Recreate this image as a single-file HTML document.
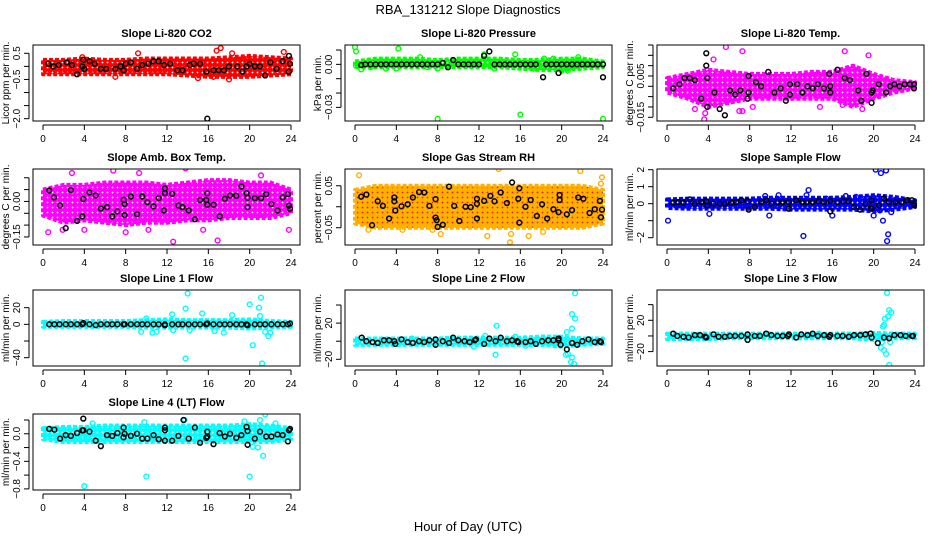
<!DOCTYPE html>
<html><head><meta charset="utf-8"><style>
html,body{margin:0;padding:0;background:#fff}
svg{display:block;font-family:"Liberation Sans",sans-serif}
</style></head><body>
<svg id="chart" width="936" height="540" viewBox="0 0 936 540" xmlns="http://www.w3.org/2000/svg">
<rect x="0" y="0" width="936" height="540" fill="#fff"/>
<text x="468" y="14" text-anchor="middle" font-size="13">RBA_131212  Slope Diagnostics</text>
<text x="468" y="531" text-anchor="middle" font-size="13">Hour of Day (UTC)</text>
</svg>
<script>
const xTicks = [0,4,8,12,16,20,24];
const bandHours = [0,2,4,6,8,10,12,14,16,18,20,22,24];

const co2BandLo = [-0.3,-0.3,-0.3,-0.3,-0.3,-0.3,-0.3,-0.35,-0.4,-0.4,-0.4,-0.35,-0.3];
const co2BandHi = [0.25,0.25,0.3,0.25,0.25,0.3,0.3,0.3,0.3,0.35,0.4,0.35,0.3];
const co2Out = [[9.2,0.5],[16.8,0.6],[17.2,0.7],[18.3,0.5],[18,-0.5],[16.5,-0.4],[23.3,0.55],[3.8,0.35],[15,-0.45],[7,-0.4]];
const co2Blk = [[0.5,0.1],[1,0],[1.5,0.05],[2.3,0.15],[2.8,0.05],[3.3,-0.3],[3.8,0],[3.9,0.25],[4,-0.1],[4.5,0.2],[5,0.1],[5.6,-0.1],[6.1,-0.1],[7,-0.1],[7.5,0],[7.8,-0.15],[8,0.1],[8.5,0.15],[9.1,-0.1],[9.6,0.05],[10.2,0.1],[10.7,0.2],[11.2,0.2],[11.7,0.05],[12.3,0.1],[13,-0.15],[13.5,-0.15],[14.2,0.05],[14.6,0.1],[15.2,0.1],[15.8,-0.2],[15.9,-2.0],[16.5,-0.15],[17,-0.15],[17.5,-0.15],[18,0],[18.8,0],[19.3,-0.2],[19.7,0],[20,0.1],[20.5,0],[21,0],[21.5,-0.35],[22,0.15],[22.6,-0.1],[23.2,0.2],[23.8,0.4],[23.9,0.1],[23.8,-0.2]];

const presBandLo = [-0.002,-0.002,-0.002,-0.002,-0.002,-0.002,-0.002,-0.002,-0.003,-0.004,-0.004,-0.003,-0.002];
const presBandHi = [0.002,0.004,0.004,0.004,0.003,0.004,0.004,0.004,0.003,0.003,0.004,0.004,0.002];
const presOut = [[0,0.012],[0.1,0.009],[0.1,-0.001],[0.6,-0.0035],[1.5,-0.002],[3,-0.003],[4,-0.003],[4.2,0.011],[6.3,0.005],[7,-0.002],[8,-0.038],[8,-0.003],[12.5,0.007],[13.5,-0.003],[15.5,0.007],[16,-0.035],[17.3,-0.003],[18.3,0.004],[19.2,0.004],[20,-0.0045],[20.6,-0.0045],[21.6,0.005],[24,-0.038]];
const presBlk = [[0.6,-0.0005],[1,0],[1.5,0],[2,0],[2.5,0],[3,0],[3.5,0],[4,0],[4.5,0],[5,0],[5.5,0],[6,0],[6.5,0],[7,0],[7.5,0],[8,0],[8.5,0.001],[9,-0.002],[9.5,0.003],[10,0],[10.5,0],[11,0],[11.5,0],[12,0],[12.5,0.006],[13,0.009],[13.5,0],[14,0],[14.5,0],[15,0],[15.5,0],[16,0],[16.5,0],[17,0],[17.5,0],[18.2,-0.009],[18.5,0],[19,0],[19.5,0],[19.7,-0.006],[20,0],[20.5,0],[21,0],[21.5,0],[22,0],[22.5,0],[23,0],[23.5,0],[24,0],[24,-0.009]];

const tempBandLo = [-0.003,-0.006,-0.01,-0.008,-0.006,-0.006,-0.006,-0.006,-0.006,-0.01,-0.006,-0.003,-0.001];
const tempBandHi = [0.004,0.006,0.008,0.007,0.006,0.006,0.006,0.007,0.007,0.01,0.006,0.003,0.002];
const tempOut = [[5.7,0.019],[7.3,0.017],[17.2,0.017],[19.5,0.015],[3.6,-0.016],[3.7,-0.013],[2.7,-0.011],[7,-0.012],[7.3,-0.012],[8.3,-0.01],[14.8,-0.01],[17,-0.009],[18.9,-0.011],[4.5,0.013]];
const tempBlk = [[0.6,-0.001],[1.2,0.001],[1.7,0.004],[2.2,0.004],[2.7,0.003],[3.3,-0.006],[3.8,0.016],[3.8,0.010],[3.9,0.004],[3.9,-0.010],[4.6,-0.003],[5.1,-0.011],[5.6,-0.014],[6.1,-0.002],[6.6,-0.004],[7.1,-0.002],[7.8,-0.006],[7.9,-0.003],[7.9,0.005],[8.6,0.002],[9.1,0],[9.8,0.007],[10.4,-0.003],[11,-0.001],[11.5,-0.007],[11.9,-0.004],[11.9,0.001],[12.6,0.001],[13.1,-0.003],[13.6,0],[14.1,-0.001],[14.6,0.001],[15.2,-0.001],[15.8,-0.003],[15.8,0],[15.7,0.006],[16.5,0.008],[17.2,0.004],[17.7,0.003],[18.5,-0.002],[18.8,-0.007],[19.3,0.006],[19.8,-0.008],[19.8,-0.003],[19.9,-0.002],[20.5,0.001],[21.2,-0.003],[21.6,0],[22,0.001],[22.5,0],[23,0.001],[23.5,0.001],[23.9,0.001],[23.9,-0.001]];

const ambBandLo = [-0.06,-0.09,-0.08,-0.09,-0.1,-0.09,-0.09,-0.08,-0.08,-0.07,-0.07,-0.07,-0.05];
const ambBandHi = [0.05,0.07,0.07,0.08,0.08,0.08,0.07,0.08,0.09,0.09,0.08,0.08,0.05];
const ambOut = [[2.8,0.12],[6.8,0.13],[13.8,0.14],[9.3,0.12],[21.1,0.11],[4,-0.12],[0.5,-0.13],[10.2,-0.12],[12.6,-0.17],[16.9,-0.165],[8,-0.13],[1.9,-0.12],[23.8,-0.12],[15.5,-0.12]];
const ambBlk = [[0.6,0.046],[1.07,0.017],[1.65,-0.017],[2.2,-0.113],[2.7,0.048],[3.3,-0.082],[3.8,-0.063],[3.9,0.01],[4.5,0.038],[5.1,0.025],[5.6,-0.03],[6.2,-0.024],[6.7,-0.063],[7.2,-0.042],[7.8,0.007],[7.9,-0.058],[7.9,-0.011],[8.5,0.021],[9.1,-0.054],[9.6,0.021],[10.1,-0.003],[10.7,-0.021],[11.2,0.014],[11.7,-0.038],[11.8,0.055],[11.8,0.035],[12.5,0.032],[13.1,-0.017],[13.5,-0.024],[14.1,-0.038],[14.7,-0.075],[15.2,0.006],[15.8,0.006],[15.9,0.034],[15.9,-0.014],[16.5,-0.014],[17.1,-0.063],[17.6,0.011],[18.1,0.025],[18.7,0.024],[19.2,0.063],[19.7,0.035],[19.8,-0.024],[19.8,0.015],[20.5,0.014],[21.1,0.014],[21.6,0.031],[22.1,-0.011],[22.7,-0.038],[23.2,0.017],[23.7,0.031],[23.8,-0.018],[23.9,-0.031]];

const rhBandLo = [-0.04,-0.05,-0.05,-0.05,-0.05,-0.05,-0.05,-0.05,-0.05,-0.05,-0.05,-0.05,-0.04];
const rhBandHi = [0.04,0.05,0.05,0.05,0.05,0.05,0.05,0.05,0.05,0.05,0.05,0.05,0.04];
const rhOut = [[0.4,0.075],[13.9,0.09],[21.8,0.085],[23.9,0.07],[23.8,0.055],[8.3,-0.065],[12.8,-0.07],[15,-0.085],[15.1,-0.065],[16.8,-0.07],[18.2,-0.06],[1.3,-0.055],[4.6,-0.055],[7.5,-0.055]];
const rhBlk = [[0.6,0.024],[1.1,0.029],[1.65,-0.044],[2.2,0.013],[2.7,0.002],[3.3,-0.028],[3.8,0.022],[3.8,0.013],[3.9,-0.009],[4.5,0.001],[5.1,0.006],[5.6,0.022],[6.2,0.035],[6.7,0.034],[7.2,0.002],[7.8,0.018],[7.8,-0.026],[7.9,-0.032],[8,-0.048],[8.5,-0.043],[9.1,0.048],[9.6,0.002],[10.1,-0.034],[10.7,0],[11.2,-0.001],[11.8,0.019],[11.8,-0.028],[11.8,0.007],[12.5,0.014],[13.1,0.026],[13.5,0.013],[14.1,0.034],[14.7,0.009],[15.2,0.058],[15.9,-0.038],[15.9,0.044],[15.8,0.019],[16.5,0],[17,0.016],[17.6,-0.022],[18.1,0.006],[18.6,-0.028],[19.2,-0.006],[19.7,-0.013],[19.8,0.028],[19.8,0.016],[20.5,-0.018],[21,-0.008],[21.6,0.022],[22.1,0.019],[22.7,-0.015],[23.2,-0.006],[23.7,0.014],[23.8,-0.025],[23.9,-0.007]];

const flowBandLo = [-0.25,-0.3,-0.3,-0.3,-0.3,-0.3,-0.35,-0.35,-0.35,-0.35,-0.45,-0.35,-0.2];
const flowBandHi = [0.25,0.3,0.3,0.3,0.3,0.35,0.35,0.35,0.35,0.4,0.5,0.4,0.2];
const flowOut = [[0.1,-1],[10.8,0.5],[13.7,0.8],[13.5,0.5],[9.9,-0.7],[13.2,-1.9],[16,-0.7],[15.4,0.3],[20,-0.7],[20.2,2.0],[20.7,1.8],[21.2,1.95],[21.4,-1.8],[21.3,-2.2],[20.9,-1],[21.7,-0.5],[4.1,-0.6],[20.6,-0.4],[18.3,0.4],[9.5,0.45],[17.3,0.45]];
const flowBlk = [[0.6,0.05],[1.1,0.1],[1.6,0.05],[2.2,0.25],[2.7,0],[3.3,0.1],[3.8,0.15],[3.9,-0.1],[4.5,0],[5.1,0],[5.6,0],[6.2,0.05],[6.7,0.1],[7.2,0.2],[7.8,0.15],[7.9,-0.35],[8.5,-0.2],[9.1,0.1],[9.6,0.2],[10.1,0],[10.7,0.1],[11.2,0.1],[11.8,-0.3],[11.8,0.1],[12.5,0.2],[13.1,0.1],[13.5,0.1],[14.1,0.1],[14.7,0.15],[15.2,0.1],[15.8,-0.45],[15.8,0.15],[16.5,0.1],[17.1,0.15],[17.6,0.15],[18.1,-0.2],[18.7,-0.35],[19.2,0],[19.7,-0.25],[19.8,0.2],[19.8,-0.3],[20.5,-0.1],[21,0.3],[21.5,0.1],[22.1,0.1],[22.7,0.1],[23.2,0.2],[23.7,0.2],[23.9,-0.1],[23.9,0]];

const l1BandLo = [-3,-3,-3,-3,-3,-4,-4,-4,-4,-4,-5,-4,-3];
const l1BandHi = [3,4,4,4,4,5,6,5,5,5,6,4,3];
const l1Out = [[13.8,-41],[14,37],[13.8,19],[15.4,13],[12.5,12],[9.5,-9],[10.6,-10],[11,-9],[18.3,11],[17.5,-10],[20,24],[20.3,-25],[21.1,32],[20.9,20],[21,10],[21.5,-9],[21.8,-14],[22,-10],[21.2,-47],[16.6,-8],[12.6,-7],[10,7],[14.2,-7]];
const l1Blk = [[0.6,0],[1.1,0],[1.6,0],[2.2,0],[2.7,0],[3.3,0],[3.8,0],[3.9,1.5],[4.5,0],[5.1,-1],[5.6,0],[6.2,0],[6.7,0],[7.2,0],[7.8,0],[7.9,0],[8.5,0],[9.1,0],[9.6,0],[10.1,0],[10.7,0],[11.2,0],[11.8,-1],[11.8,0],[12.5,0],[13.1,0],[13.5,0],[14.1,0],[14.7,0],[15.2,0],[15.8,0],[15.9,1],[16.5,0],[17.1,0],[17.6,0],[18.1,0],[18.7,0],[19.2,0],[19.7,0],[19.8,-1],[20.5,0],[21,0],[21.5,0],[22.1,0],[22.7,0],[23.2,0],[23.7,0],[23.9,1]];

const l4BandLo = [-0.08,-0.12,-0.12,-0.12,-0.12,-0.12,-0.12,-0.12,-0.12,-0.12,-0.12,-0.12,-0.08];
const l4BandHi = [0.08,0.1,0.1,0.12,0.12,0.12,0.12,0.12,0.12,0.12,0.14,0.12,0.08];
const l4Out = [[4,-0.76],[10,-0.62],[20,-0.62],[21.3,-0.32],[20.3,-0.19],[20.8,-0.2],[21.5,0.28],[21,0.2],[13.7,0.2],[4.8,0.15],[19.5,0.18],[22.5,0.15],[9.8,0.17]];
const l4Blk = [[0.6,0.07],[1.1,0.06],[1.65,-0.07],[2.2,-0.02],[2.7,-0.03],[3.3,0.01],[3.9,0.22],[3.8,0.05],[3.9,0.05],[4.5,0.03],[5.1,-0.1],[5.6,-0.18],[6.2,-0.02],[6.7,-0.03],[7.2,0.01],[7.8,0.09],[7.8,-0.05],[7.9,0],[8.5,-0.03],[9.1,0],[9.6,-0.07],[10.1,-0.07],[10.7,-0.02],[11.2,-0.08],[11.8,0.09],[11.8,0.05],[11.8,-0.1],[12.5,-0.1],[13.1,-0.03],[13.6,0.2],[14.1,-0.07],[14.7,0.09],[15.2,-0.13],[15.8,-0.06],[15.9,-0.04],[15.9,0.03],[16.5,-0.15],[17.1,0.01],[17.6,-0.04],[18.1,0],[18.7,-0.06],[19.2,-0.02],[19.7,0.1],[19.8,0.04],[19.8,-0.16],[20.5,-0.07],[21,0.03],[21.6,-0.04],[22.1,-0.04],[22.7,-0.01],[23.2,-0.02],[23.7,-0.11],[23.8,0.05],[23.9,0.07]];

const l2BandLo = [-4,-4,-4,-4,-4,-4,-4,-4,-4,-4,-6,-4,-3];
const l2BandHi = [3,3,3,3,3,4,4,4,4,5,5,3,3];
const l2Out = [[21.3,53],[21,30],[21.3,25],[20.5,10],[21,14],[13.7,17],[13.6,-15],[20.4,-15],[20.6,-14],[21,-18],[20.9,-23],[21.2,-25],[12.6,6],[15.5,5],[5.5,3],[11.5,-6],[16.5,-5]];
const l2Blk = [[0.65,4],[1.1,0],[1.7,-1],[2.2,-2],[2.8,1],[3.3,1],[3.8,0],[3.9,-3],[4.5,2],[5.1,-1],[5.6,-2],[6.2,0],[6.7,-1],[7.2,1],[7.8,2],[7.8,-4],[8.5,0],[9.1,-2],[9.5,4],[10,1],[10.6,0],[11.1,-1],[11.6,1],[11.7,2],[12.5,-3],[13,3],[13.6,0],[14.1,4],[14.7,0],[15.2,1],[15.7,0],[15.8,-1],[16.5,-1],[17,0],[17.5,-3],[18.1,0],[18.7,1],[19.2,1],[19.7,3],[19.7,1],[19.9,-4],[20.5,-9],[21,-2],[21.5,-4],[22,0],[22.6,2],[23.2,-1],[23.7,0],[23.8,-1]];

const l3BandLo = [-4,-4,-4,-3,-3,-3,-3,-3,-3,-3,-5,-3,-3];
const l3BandHi = [3,3,3,3,3,3,3,3,3,3,4,3,3];
const l3Out = [[21.3,55],[21.5,33],[21.7,30],[21.4,25],[21.1,22],[21,14],[20.9,12],[20.8,-8],[21,-18],[21.2,-23],[21.5,-37],[20.7,-15],[21.6,-8],[9.8,2],[14.7,3]];
const l3Blk = [[0.6,3],[1,0],[1.6,-1],[2.1,-2],[2.7,1],[3.2,1],[3.7,-1],[3.8,-2],[4.5,2],[5,-1],[5.6,-1],[6.1,0],[6.6,0],[7.2,0],[7.8,2],[7.8,-5],[8.5,0],[9,0],[9.6,3],[10.1,1],[10.7,0],[11.2,0],[11.7,0],[11.8,2],[12.5,-2],[13,2],[13.6,1],[14.1,3],[14.6,0],[15.2,1],[15.7,-1],[15.8,1],[16.5,0],[17,0],[17.6,-1],[18.1,1],[18.7,1],[19.2,2],[19.7,3],[19.8,-2],[20.4,-9],[21,-2],[21.5,-3],[22,1],[22.6,1],[23.1,0],[23.7,0],[23.8,0]];

const panels = [
 {id:'co2',title:'Slope Li-820 CO2',yl:'Licor ppm per min.',col:0,row:0,ymin:-2.088,ymax:0.817,ticks:[0.5,0,-0.5,-1,-1.5,-2],labels:['0.5','','-0.5','','','-2.0'],color:'#ff0000',dot:'#ff0000',lo:co2BandLo,hi:co2BandHi,out:co2Out,blk:co2Blk},
 {id:'pressure',title:'Slope Li-820 Pressure',yl:'kPa per min.',col:1,row:0,ymin:-0.0395,ymax:0.0135,ticks:[0.01,0,-0.01,-0.02,-0.03],labels:['','0.00','','','-0.03'],color:'#00ff00',dot:'#00cc00',lo:presBandLo,hi:presBandHi,out:presOut,blk:presBlk},
 {id:'temp',title:'Slope Li-820 Temp.',yl:'degrees C per min.',col:2,row:0,ymin:-0.0168,ymax:0.02,ticks:[0.02,0.015,0.01,0.005,0,-0.005,-0.01,-0.015],labels:['','','','0.005','','','','-0.015'],color:'#ff00ff',dot:'#ff00ff',lo:tempBandLo,hi:tempBandHi,out:tempOut,blk:tempBlk},
 {id:'amb-box',title:'Slope Amb. Box Temp.',yl:'degrees C per min.',col:0,row:1,ymin:-0.184,ymax:0.137,ticks:[0.1,0.05,0,-0.05,-0.1,-0.15],labels:['','','0.00','','','-0.15'],color:'#ff00ff',dot:'#ff00ff',lo:ambBandLo,hi:ambBandHi,out:ambOut,blk:ambBlk},
 {id:'rh',title:'Slope Gas Stream RH',yl:'percent per min.',col:1,row:1,ymin:-0.0912,ymax:0.09,ticks:[0.05,0,-0.05],labels:['0.05','','-0.05'],color:'#ffb000',dot:'#ee2200',lo:rhBandLo,hi:rhBandHi,out:rhOut,blk:rhBlk},
 {id:'sample-flow',title:'Slope Sample Flow',yl:'ml/min per min.',col:2,row:1,ymin:-2.43,ymax:2.04,ticks:[2,1,0,-1,-2],labels:['2','1','0','','-2'],color:'#0000ff',dot:'#0000ff',lo:flowBandLo,hi:flowBandHi,out:flowOut,blk:flowBlk},
 {id:'line1',title:'Slope Line 1 Flow',yl:'ml/min per min.',col:0,row:2,ymin:-50,ymax:41.2,ticks:[20,0,-20,-40],labels:['20','0','','-40'],color:'#00ffff',dot:'#00ffff',lo:l1BandLo,hi:l1BandHi,out:l1Out,blk:l1Blk},
 {id:'line2',title:'Slope Line 2 Flow',yl:'ml/min per min.',col:1,row:2,ymin:-27.4,ymax:56.6,ticks:[40,20,0,-20],labels:['','20','','-20'],color:'#00ffff',dot:'#00ffff',lo:l2BandLo,hi:l2BandHi,out:l2Out,blk:l2Blk},
 {id:'line3',title:'Slope Line 3 Flow',yl:'ml/min per min.',col:2,row:2,ymin:-38.4,ymax:58.7,ticks:[40,20,0,-20],labels:['','20','','-20'],color:'#00ffff',dot:'#00ffff',lo:l3BandLo,hi:l3BandHi,out:l3Out,blk:l3Blk},
 {id:'line4',title:'Slope Line 4 (LT) Flow',yl:'ml/min per min.',col:0,row:3,ymin:-0.816,ymax:0.287,ticks:[0.2,0,-0.2,-0.4,-0.6,-0.8],labels:['','0.0','','-0.4','','-0.8'],color:'#00ffff',dot:'#00ffff',lo:l4BandLo,hi:l4BandHi,out:l4Out,blk:l4Blk}
];

const NS='http://www.w3.org/2000/svg';
const svg=document.getElementById('chart');
const colLeft=[33,345,657], rowTop=[45,169,290,414], W=267, H=76;
function mk(tag,attrs,parent){const e=document.createElementNS(NS,tag);for(const k in attrs)e.setAttribute(k,attrs[k]);parent.appendChild(e);return e;}
const defs=mk('defs',{},svg);

panels.forEach(p=>{
  const L=colLeft[p.col], T=rowTop[p.row];
  const g=mk('g',{},svg);
  
  
  const xs=h=>L+10+h*(W-19)/24;
  const ys=v=>T+(p.ymax-v)/(p.ymax-p.ymin)*H;
  // texture pattern mimicking overlapping open circles
  const pat=mk('pattern',{id:'pat-'+p.id,width:5,height:5,patternUnits:'userSpaceOnUse'},defs);
  mk('rect',{x:0,y:0,width:5,height:5,fill:p.color},pat);
  mk('circle',{cx:2.5,cy:2.5,r:0.9,fill:p.id==='rh'?p.dot:'#fff'},pat);
  const clip=mk('clipPath',{id:'clip-'+p.id},g);
  mk('rect',{x:L,y:T,width:W,height:H},clip);
  const plot=mk('g',{'clip-path':'url(#clip-'+p.id+')'},g);
  let pts=[];
  bandHours.forEach((h,i)=>pts.push(xs(h)+','+ys(p.hi[i])));
  for(let i=bandHours.length-1;i>=0;i--)pts.push(xs(bandHours[i])+','+ys(p.lo[i]));
  const band=mk('polygon',{points:pts.join(' '),fill:'url(#pat-'+p.id+')',stroke:p.color,'stroke-width':4,'stroke-linejoin':'round','stroke-dasharray':'4 2'},plot);
  
  
  p.out.forEach(d=>{
    const c=mk('circle',{cx:xs(d[0]),cy:ys(d[1]),r:2.4,fill:'none',stroke:p.color,'stroke-width':1.4},plot);
    
    
  });
  p.blk.forEach(d=>{
    const c=mk('circle',{cx:xs(d[0]),cy:ys(d[1]),r:2.4,fill:'none',stroke:'#000','stroke-width':1.5},plot);
    
    
  });
  const box=mk('rect',{x:L,y:T,width:W,height:H,fill:'none',stroke:'#000','stroke-width':1},g);
  
  
  const t=mk('text',{x:L+W/2,y:T-8,'text-anchor':'middle','font-size':11,'font-weight':'bold'},g);
  t.textContent=p.title;
  
  
  mk('line',{x1:xs(0),x2:xs(24),y1:T+H+4,y2:T+H+4,stroke:'#000'},g);
  xTicks.forEach(h=>{
    mk('line',{x1:xs(h),x2:xs(h),y1:T+H+4,y2:T+H+9,stroke:'#000'},g);
    const tl=mk('text',{x:xs(h),y:T+H+21,'text-anchor':'middle','font-size':10},g);
    tl.textContent=h;
    
    
  });
  const ax=L-4;
  mk('line',{x1:ax,x2:ax,y1:ys(p.ticks[0]),y2:ys(p.ticks[p.ticks.length-1]),stroke:'#000'},g);
  p.ticks.forEach((v,i)=>{
    mk('line',{x1:ax-5,x2:ax,y1:ys(v),y2:ys(v),stroke:'#000'},g);
    if(p.labels[i]){
      const yl=mk('text',{x:0,y:0,'text-anchor':'middle','font-size':10,transform:'translate('+(L-13)+','+ys(v)+') rotate(-90)'},g);
      yl.textContent=p.labels[i].replace('-','\u2212');
      
      
    }
  });
  const yt=mk('text',{x:0,y:0,'text-anchor':'middle','font-size':10,transform:'translate('+(L-24)+','+(T+H/2)+') rotate(-90)'},g);
  yt.textContent=p.yl;
  
  
});
</script>
</body></html>
